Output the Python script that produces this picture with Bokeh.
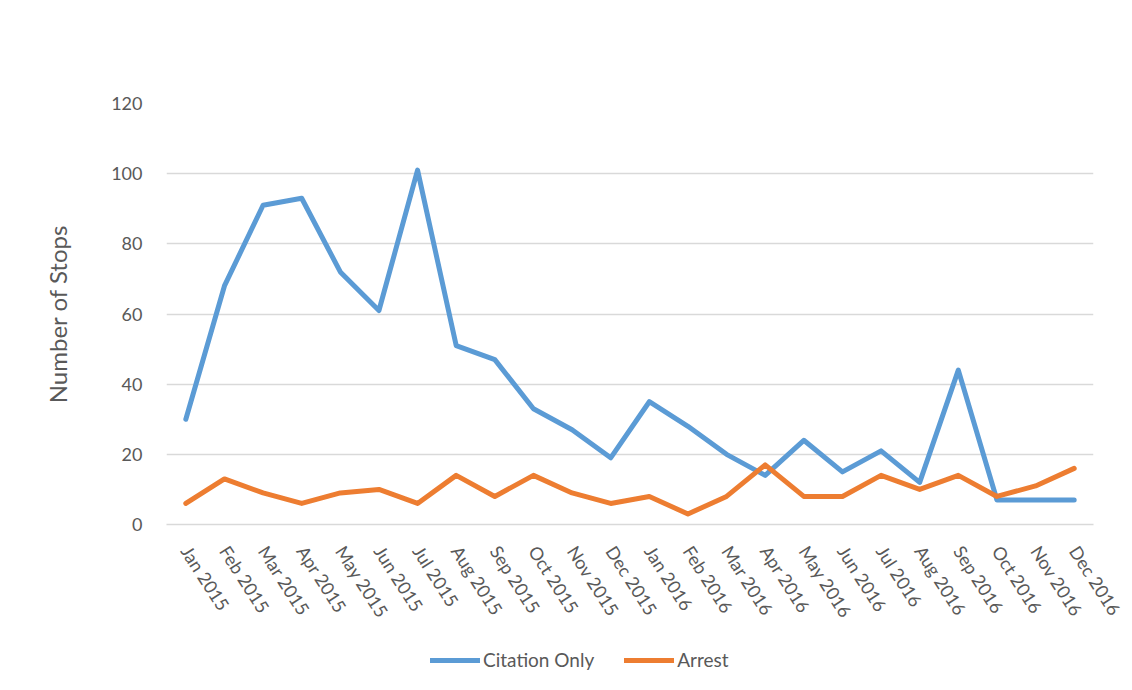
from bokeh.plotting import figure
from bokeh.layouts import column
from bokeh.models import FactorRange, Range1d, SingleIntervalTicker, Legend, LegendItem
from bokeh.embed import file_html
from bokeh.resources import INLINE

months = ["Jan 2015", "Feb 2015", "Mar 2015", "Apr 2015", "May 2015", "Jun 2015",
          "Jul 2015", "Aug 2015", "Sep 2015", "Oct 2015", "Nov 2015", "Dec 2015",
          "Jan 2016", "Feb 2016", "Mar 2016", "Apr 2016", "May 2016", "Jun 2016",
          "Jul 2016", "Aug 2016", "Sep 2016", "Oct 2016", "Nov 2016", "Dec 2016"]
citation_only = [30, 68, 91, 93, 72, 61, 101, 51, 47, 33, 27, 19,
                 35, 28, 20, 14, 24, 15, 21, 12, 44, 7, 7, 7]
arrest = [6, 13, 9, 6, 9, 10, 6, 14, 8, 14, 9, 6,
          8, 3, 8, 17, 8, 8, 14, 10, 14, 8, 11, 16]
series_names = ["Citation Only", "Arrest"]
series_colors = ["#5B9BD5", "#ED7D31"]

FONT = "Lato"
TXT = "#595959"
GRID = "#D9D9D9"
W = 1132

p = figure(width=W, height=632, x_range=FactorRange(*months), y_range=Range1d(0, 120),
           output_backend="svg", toolbar_location=None,
           min_border_left=166, min_border_right=39, min_border_top=103, min_border_bottom=108)
p.outline_line_color = None
p.background_fill_color = "white"
p.border_fill_color = "white"

p.line(months, citation_only, line_color=series_colors[0], line_width=5,
       line_cap="round", line_join="round")
p.line(months, arrest, line_color=series_colors[1], line_width=5,
       line_cap="round", line_join="round")

p.yaxis.ticker = SingleIntervalTicker(interval=20)
p.ygrid.grid_line_color = GRID
p.ygrid.grid_line_width = 1.3
p.xgrid.grid_line_color = None

for ax in (p.xaxis, p.yaxis):
    ax.major_tick_line_color = None
    ax.minor_tick_line_color = None
    ax.major_label_text_font = FONT
    ax.major_label_text_color = TXT
    ax.major_label_text_font_size = "18px"
    ax.axis_label_text_font = FONT
    ax.axis_label_text_color = TXT
    ax.axis_label_text_font_style = "normal"
p.yaxis.axis_line_color = None
p.yaxis.major_label_standoff = 18
p.yaxis.axis_label = "Number of Stops"
p.yaxis.axis_label_text_font_size = "24px"
p.yaxis.axis_label_standoff = 36
p.xaxis.axis_line_color = GRID
p.xaxis.axis_line_width = 1.3
p.xaxis.major_label_orientation = -1.0
p.xaxis.major_label_standoff = 17

# legend strip below the chart (its frame is aligned with the main frame)
lg = figure(width=W, height=58, x_range=FactorRange(*months), y_range=Range1d(1000, 1001),
            output_backend="svg", toolbar_location=None,
            x_axis_type=None, y_axis_type=None, min_border=0)
lg.outline_line_color = None
lg.grid.visible = False
lg.border_fill_color = "white"
rends = [lg.line(months, vals, line_color=c, line_width=5, line_cap="round")
         for vals, c in zip([citation_only, arrest], series_colors)]
legend = Legend(items=[LegendItem(label=n, renderers=[r]) for n, r in zip(series_names, rends)],
                orientation="horizontal", location=(264, 19),
                label_text_font=FONT, label_text_color=TXT, label_text_font_size="19px",
                glyph_width=50, glyph_height=20, label_height=20, label_standoff=3, spacing=30,
                border_line_color=None, background_fill_alpha=0, margin=0, padding=0)
lg.add_layout(legend, "center")

layout = column(p, lg, spacing=0)
open("out.html", "w").write(file_html(layout, INLINE))
